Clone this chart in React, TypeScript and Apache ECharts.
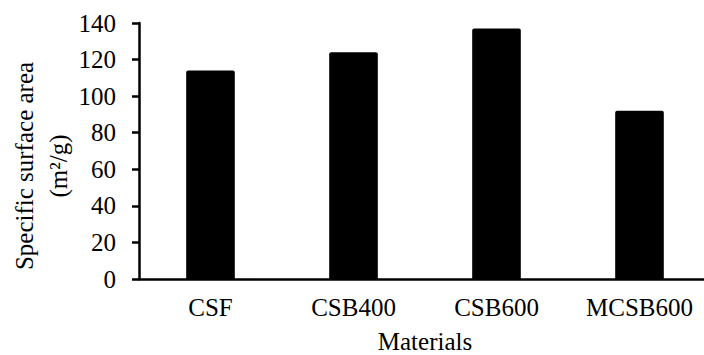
import React, { useEffect, useRef } from "react";
import * as echarts from "echarts";

const categories = ["CSF", "CSB400", "CSB600", "MCSB600"];
const surfaceArea = [114, 124, 137, 92];
const yTicks = { min: 0, max: 140, interval: 20 };
const xAxisName = "Materials";
const yAxisName = "Specific surface area\n(m²/g)";

const FONT = "'Liberation Serif', 'Times New Roman', serif";

export default function App() {
  const ref = useRef<HTMLDivElement>(null);
  useEffect(() => {
    document.body.style.margin = "0";
    if (!ref.current) return;
    const chart = echarts.init(ref.current, null, { renderer: "svg" });
    chart.setOption({
      animation: false,
      backgroundColor: "#ffffff",
      grid: { left: 139, top: 23, bottom: 76, right: -7, containLabel: false, outerBoundsMode: "none" },
      xAxis: {
        type: "category",
        data: categories,
        name: xAxisName,
        nameLocation: "middle",
        nameGap: 50,
        nameTextStyle: { fontFamily: FONT, fontSize: 25, color: "#000" },
        axisLine: { lineStyle: { color: "#000", width: 2.5 } },
        axisTick: { length: 7, lineStyle: { color: "#000", width: 2.5 } },
        axisLabel: { fontFamily: FONT, fontSize: 25, color: "#000", margin: 16 },
      },
      yAxis: {
        type: "value",
        min: yTicks.min,
        max: yTicks.max,
        interval: yTicks.interval,
        splitLine: { show: false },
        axisLine: { show: true, lineStyle: { color: "#000", width: 2.5 } },
        axisTick: { show: true, length: 7, lineStyle: { color: "#000", width: 2.5 } },
        axisLabel: { fontFamily: FONT, fontSize: 25, color: "#000", margin: 23 },
      },
      graphic: [
        {
          type: "text",
          x: 41,
          y: 166,
          rotation: Math.PI / 2,
          style: {
            text: yAxisName,
            fontFamily: FONT,
            fontSize: 25,
            lineHeight: 34,
            fill: "#000",
            align: "center",
            verticalAlign: "middle",
          },
        },
      ],
      series: [
        {
          type: "bar",
          data: surfaceArea,
          barWidth: "34%",
          itemStyle: { color: "#000", borderRadius: [2, 2, 0, 0] },
        },
      ],
    });
    return () => chart.dispose();
  }, []);
  return <div ref={ref} style={{ width: 704, height: 355 }} />;
}
